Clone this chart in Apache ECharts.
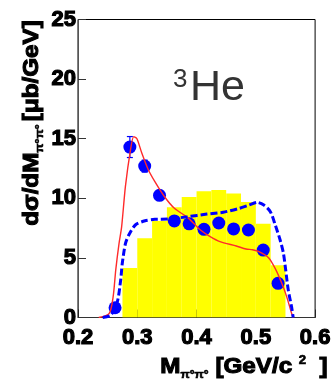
<!DOCTYPE html>
<html>
<head>
<meta charset="utf-8">
<script src="https://cdn.jsdelivr.net/npm/echarts@6/dist/echarts.min.js"></script>
<style>
html,body{margin:0;padding:0;background:#fff;}
#chart{width:334px;height:387px;}
</style>
</head>
<body>
<div id="chart"></div>
<script>
// ---- data ----
var xTicks = [0.2, 0.3, 0.4, 0.5, 0.6];
var yTicks = [0, 5, 10, 15, 20, 25];

// yellow histogram: bin edges and contents
var histEdges = [0.275, 0.3, 0.325, 0.35, 0.375, 0.4, 0.425, 0.45, 0.475, 0.5, 0.525, 0.55];
var histValues = [4.15, 6.65, 8.1, 9.24, 10.1, 10.6, 10.7, 10.4, 9.68, 7.87, 4.38];

// blue data points
var pointX = [0.2625, 0.2875, 0.3125, 0.3375, 0.3625, 0.3875, 0.4125, 0.4375, 0.4625, 0.4875, 0.5125, 0.5375];
var pointY = [0.82, 14.3, 12.7, 10.25, 8.1, 7.86, 7.4, 7.93, 7.43, 7.34, 5.66, 2.87];
var pointErr = [0.3, 0.88, 0.5, 0.4, 0.35, 0.35, 0.35, 0.35, 0.35, 0.35, 0.35, 0.35];

// red solid curve
var redX = [0.235, 0.2527, 0.2593, 0.2637, 0.2692, 0.2736, 0.28, 0.2885, 0.294, 0.2994, 0.3076, 0.3186, 0.3297, 0.346, 0.3626, 0.3845, 0.398, 0.4065, 0.423, 0.4394, 0.467, 0.4834, 0.4944, 0.5053, 0.5218, 0.5328, 0.5438, 0.552, 0.5603, 0.563];
var redY = [0, 0.35, 1.75, 4.0, 6.2, 7.6, 11.0, 14.05, 15.17, 15.0, 13.8, 12.4, 11.4, 10.13, 9.16, 8.4, 7.76, 7.34, 6.78, 6.36, 6.0, 5.75, 5.68, 5.52, 5.0, 4.1, 2.87, 1.75, 0.35, 0];

// blue dashed curve
var blueX = [0.2417, 0.2555, 0.2664, 0.272, 0.2747, 0.28, 0.2857, 0.2967, 0.3132, 0.3297, 0.3516, 0.3845, 0.4175, 0.445, 0.4723, 0.4889, 0.5026, 0.5135, 0.5245, 0.5328, 0.541, 0.5465, 0.5504, 0.5547, 0.5603, 0.563];
var blueY = [0, 0.2, 1.33, 3.15, 4.55, 6.2, 6.92, 7.76, 8.12, 8.24, 8.26, 8.45, 8.68, 8.83, 9.16, 9.44, 9.66, 9.44, 8.88, 7.76, 6.5, 5.4, 3.98, 2.3, 0.9, 0];

// ---- build ----
function zip(a, b) { return a.map(function (v, i) { return [v, b[i]]; }); }
var histData = histValues.map(function (v, i) { return [histEdges[i], histEdges[i + 1], v]; });
var errData = pointX.map(function (x, i) { return [x, pointY[i] - pointErr[i], pointY[i] + pointErr[i]]; });

var FONT = '"Liberation Sans", Arial, Helvetica, sans-serif';

function tok(size, extra) {
  var o = { fontSize: size, fontWeight: 'bold', fontFamily: FONT, fill: '#000', stroke: '#000', lineWidth: 1.1 };
  for (var k in extra) o[k] = extra[k];
  return o;
}

var chart = echarts.init(document.getElementById('chart'), null, { renderer: 'canvas' });
chart.setOption({
  animation: false,
  backgroundColor: '#fff',
  grid: { left: 78, right: 13, top: 19.5, bottom: 69.5, show: true, borderColor: '#000', borderWidth: 1, backgroundColor: 'transparent' },
  xAxis: {
    type: 'value', min: xTicks[0], max: xTicks[xTicks.length - 1], interval: 0.1,
    axisLine: { show: true, lineStyle: { color: '#333', width: 1 } },
    axisTick: { show: true, inside: true, length: 8, lineStyle: { color: '#222', width: 1 } },
    splitLine: { show: false },
    axisLabel: { margin: 9, fontSize: 22, fontWeight: 'bold', color: '#000', fontFamily: FONT,
      textBorderColor: '#000', textBorderWidth: 1.2,
      formatter: function (v) { return v.toFixed(1); } }
  },
  yAxis: {
    type: 'value', min: yTicks[0], max: yTicks[yTicks.length - 1], interval: 5,
    axisLine: { show: true, lineStyle: { color: '#555', width: 1 } },
    axisTick: { show: true, inside: true, length: 8, lineStyle: { color: '#333', width: 1 } },
    splitLine: { show: false },
    axisLabel: { margin: 2, fontSize: 22, fontWeight: 'bold', color: '#000', fontFamily: FONT,
      textBorderColor: '#000', textBorderWidth: 1.2 }
  },
  series: [
    {
      type: 'custom', z: 1, clip: true,
      data: histData,
      encode: { x: [0, 1], y: 2 },
      renderItem: function (params, api) {
        var p0 = api.coord([api.value(0), api.value(2)]);
        var p1 = api.coord([api.value(1), 0]);
        return { type: 'rect', shape: { x: p0[0], y: p0[1], width: p1[0] - p0[0], height: p1[1] - p0[1] },
          style: { fill: '#ffff00', stroke: null } };
      }
    },
    {
      type: 'custom', z: 3,
      data: errData,
      encode: { x: 0, y: [1, 2] },
      renderItem: function (params, api) {
        var x = api.value(0);
        var lo = api.coord([x, api.value(1)]);
        var hi = api.coord([x, api.value(2)]);
        var c = 3;
        return { type: 'group', children: [
          { type: 'line', shape: { x1: lo[0], y1: lo[1], x2: hi[0], y2: hi[1] }, style: { stroke: '#0000ff', lineWidth: 1.2 } },
          { type: 'line', shape: { x1: lo[0] - c, y1: lo[1], x2: lo[0] + c, y2: lo[1] }, style: { stroke: '#0000ff', lineWidth: 1.2 } },
          { type: 'line', shape: { x1: hi[0] - c, y1: hi[1], x2: hi[0] + c, y2: hi[1] }, style: { stroke: '#0000ff', lineWidth: 1.2 } }
        ] };
      }
    },
    {
      type: 'scatter', z: 4,
      data: zip(pointX, pointY),
      symbol: 'circle', symbolSize: 13,
      itemStyle: { color: '#0000ff', opacity: 1 }
    },
    {
      type: 'line', z: 5,
      data: zip(redX, redY),
      showSymbol: false, symbol: 'none', smooth: 0.25,
      lineStyle: { color: '#ff2a2a', width: 1.4 }
    },
    {
      type: 'line', z: 6,
      data: zip(blueX, blueY),
      showSymbol: false, symbol: 'none', smooth: 0.25,
      lineStyle: { color: '#0000ff', width: 3, type: [7, 3] }
    }
  ],
  graphic: [
    { type: 'text', x: 173, y: 79.5, z: 10,
      style: { text: '3', fill: '#333', font: '26px ' + FONT, align: 'left', verticalAlign: 'middle', textAlign: 'left', textVerticalAlign: 'middle' } },
    { type: 'text', x: 190, y: 88, z: 10,
      style: { text: 'He', fill: '#333', font: '43px ' + FONT, align: 'left', verticalAlign: 'middle', textAlign: 'left', textVerticalAlign: 'middle' } },
    { type: 'text', x: 244, y: 367.4, z: 10, scaleX: 1.1,
      style: {
        text: '{a|M}{s|π°π°}{a| [GeV/c }{p|2}{a|  ]}',
        align: 'center', verticalAlign: 'middle', textAlign: 'center', textVerticalAlign: 'middle',
        fill: '#000',
        rich: {
          a: tok(22, { lineHeight: 26 }),
          s: tok(11, { lineHeight: 10, verticalAlign: 'bottom', lineWidth: 0.6 }),
          p: tok(12, { lineHeight: 8, verticalAlign: 'top', lineWidth: 0.6 })
        }
      } },
    { type: 'text', x: 32.4, y: 123, z: 10, rotation: Math.PI / 2, scaleX: 1.1,
      style: {
        text: '{a|dσ/dM}{s|π°π° }{a|[μb/GeV]}',
        align: 'center', verticalAlign: 'middle', textAlign: 'center', textVerticalAlign: 'middle',
        fill: '#000',
        rich: {
          a: tok(22, { lineHeight: 26 }),
          s: tok(11, { lineHeight: 10, verticalAlign: 'bottom', lineWidth: 0.6 })
        }
      } }
  ]
});
</script>
</body>
</html>
